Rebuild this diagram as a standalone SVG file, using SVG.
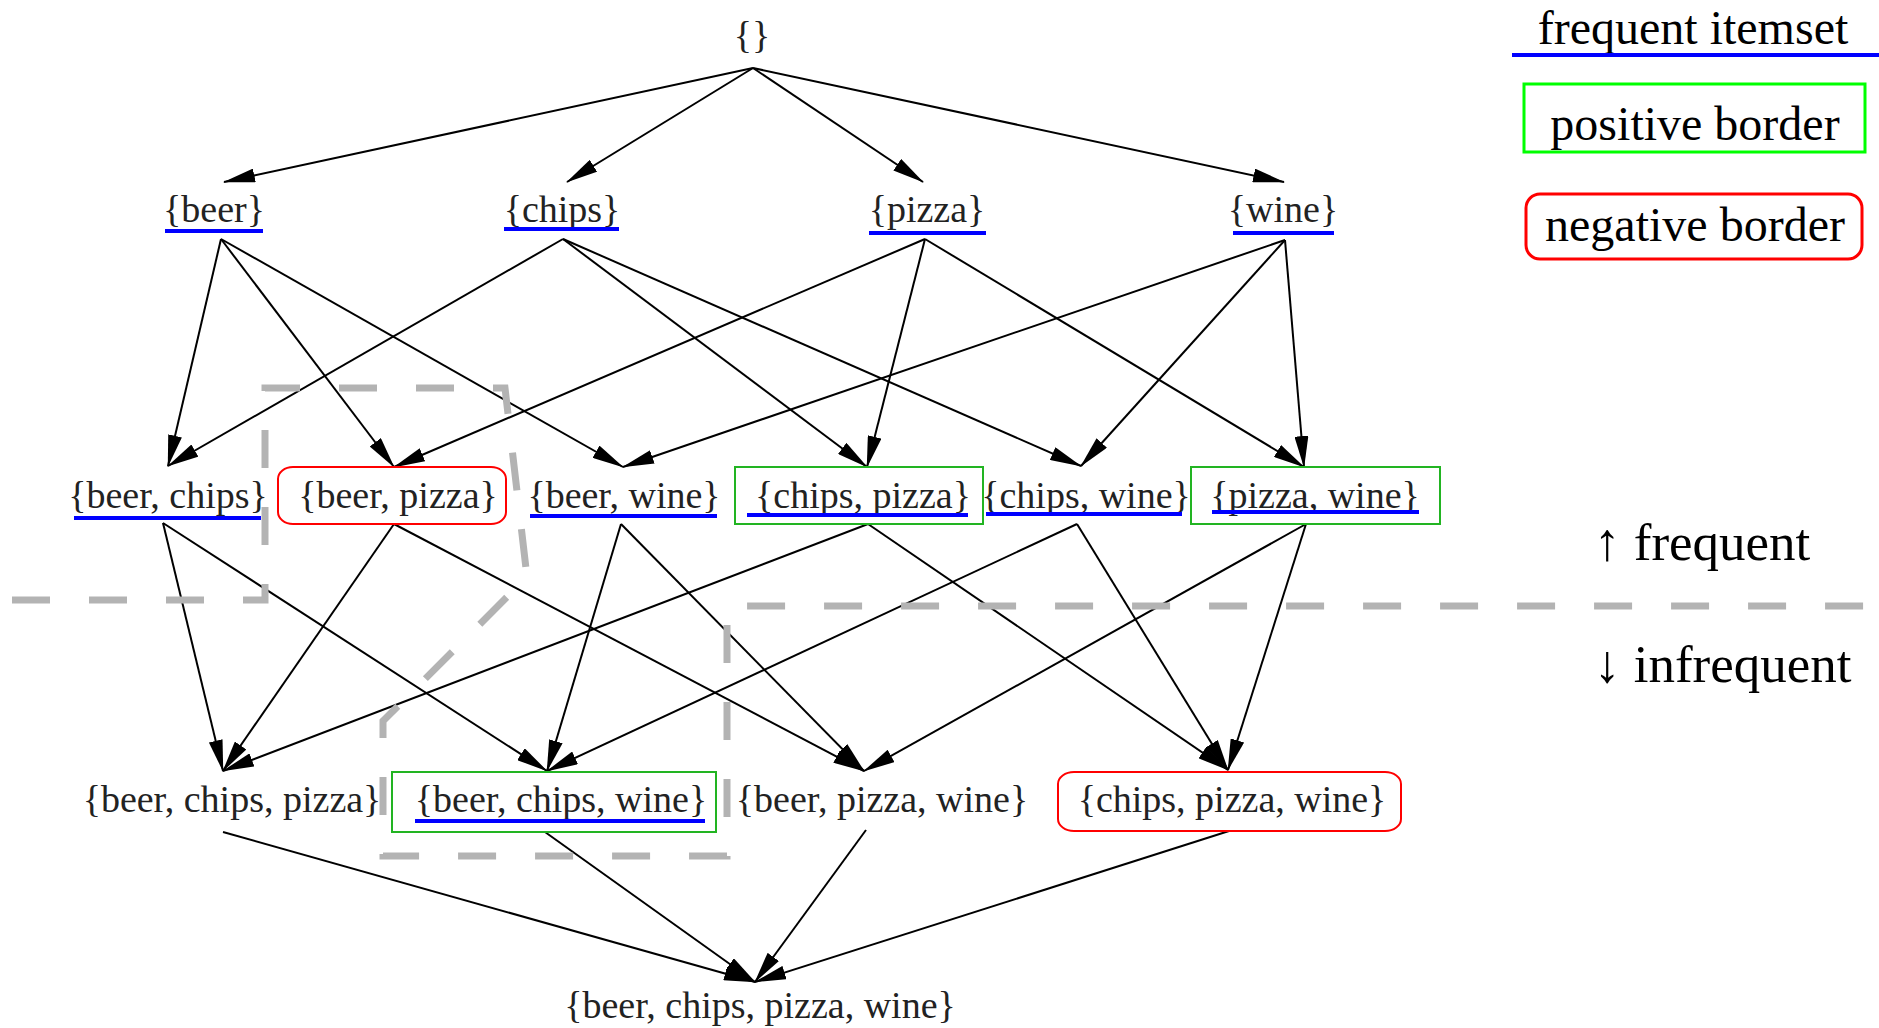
<svg xmlns="http://www.w3.org/2000/svg" width="1879" height="1028" viewBox="0 0 1879 1028">
<style>
.t{font-family:"Liberation Serif","Times New Roman",serif;font-size:38px;fill:#222;text-anchor:middle}
.lg{font-family:"Liberation Serif","Times New Roman",serif;font-size:48px;fill:#000;text-anchor:middle}
.ar{font-family:"Liberation Serif","Times New Roman",serif;font-size:53px;fill:#000}
.ul{stroke:#0000ff;stroke-width:4}
.pos{fill:#fff;stroke:#22b422;stroke-width:2}
.neg{fill:#fff;stroke:#ff0000;stroke-width:2}
.e{stroke:#000;stroke-width:2;fill:none;marker-end:url(#ah)}
</style>
<defs>
<marker id="ah" markerUnits="userSpaceOnUse" markerWidth="32" markerHeight="14" refX="31" refY="7" orient="auto">
<path d="M0,0 L32,7 L0,14 Z" fill="#000"/>
</marker>
</defs>
<rect width="1879" height="1028" fill="#fff"/>

<g id="connectors">
<line class="e" x1="753" y1="68" x2="224" y2="182"/>
<line class="e" x1="753" y1="68" x2="567" y2="182"/>
<line class="e" x1="753" y1="68" x2="923" y2="182"/>
<line class="e" x1="753" y1="68" x2="1284" y2="182"/>

<line class="e" x1="221" y1="239" x2="168" y2="466"/>
<line class="e" x1="221" y1="239" x2="394" y2="467"/>
<line class="e" x1="221" y1="239" x2="623" y2="467"/>
<line class="e" x1="563" y1="239" x2="168" y2="466"/>
<line class="e" x1="563" y1="239" x2="867" y2="467"/>
<line class="e" x1="563" y1="239" x2="1081" y2="466"/>
<line class="e" x1="925" y1="239" x2="394" y2="467"/>
<line class="e" x1="925" y1="239" x2="867" y2="467"/>
<line class="e" x1="925" y1="239" x2="1304" y2="467"/>
<line class="e" x1="1285" y1="240" x2="623" y2="467"/>
<line class="e" x1="1285" y1="240" x2="1081" y2="466"/>
<line class="e" x1="1285" y1="240" x2="1304" y2="467"/>

<line class="e" x1="163" y1="523" x2="223" y2="771"/>
<line class="e" x1="163" y1="523" x2="547" y2="771"/>
<line class="e" x1="394" y1="524" x2="223" y2="771"/>
<line class="e" x1="394" y1="524" x2="864" y2="771"/>
<line class="e" x1="621" y1="524" x2="547" y2="771"/>
<line class="e" x1="621" y1="524" x2="864" y2="771"/>
<line class="e" x1="868" y1="524" x2="223" y2="771"/>
<line class="e" x1="868" y1="524" x2="1228" y2="770"/>
<line class="e" x1="1077" y1="524" x2="547" y2="771"/>
<line class="e" x1="1077" y1="524" x2="1228" y2="770"/>
<line class="e" x1="1306" y1="524" x2="864" y2="771"/>
<line class="e" x1="1306" y1="524" x2="1228" y2="770"/>

<line class="e" x1="223" y1="832" x2="755" y2="982"/>
<line class="e" x1="545" y1="832" x2="755" y2="982"/>
<line class="e" x1="866" y1="830" x2="755" y2="982"/>
<line class="e" x1="1229" y1="831" x2="755" y2="982"/>
</g>

<g id="border-line">
<polyline points="12,600 265,600 265,388 505,388 527,577 383,721 383,856 727,856 727,606 1879,606" fill="none" stroke="#b3b3b3" stroke-width="7" stroke-dasharray="38 39"/>
</g>

<g id="n-empty"><text class="t" x="752" y="48">{}</text></g>

<g id="n-beer"><text class="t" x="214" y="222">{beer}</text><line class="ul" x1="165" y1="231" x2="263" y2="231"/></g>
<g id="n-chips"><text class="t" x="562" y="222">{chips}</text><line class="ul" x1="504" y1="229" x2="619" y2="229"/></g>
<g id="n-pizza"><text class="t" x="927" y="222">{pizza}</text><line class="ul" x1="869" y1="233" x2="986" y2="233"/></g>
<g id="n-wine"><text class="t" x="1283" y="222">{wine}</text><line class="ul" x1="1233" y1="233" x2="1334" y2="233"/></g>

<g id="n-beer-chips"><text class="t" x="168" y="508">{beer, chips}</text><line class="ul" x1="74" y1="518" x2="261" y2="518"/></g>
<g id="n-beer-pizza"><rect class="neg" x="278" y="467" width="228" height="57" rx="15" ry="12"/><text class="t" x="398" y="508">{beer, pizza}</text></g>
<g id="n-beer-wine"><text class="t" x="624" y="508">{beer, wine}</text><line class="ul" x1="530" y1="516" x2="717" y2="516"/></g>
<g id="n-chips-pizza"><rect class="pos" x="735" y="467" width="248" height="57"/><text class="t" x="863" y="508">{chips, pizza}</text><line class="ul" x1="747" y1="515" x2="968" y2="515"/></g>
<g id="n-chips-wine"><text class="t" x="1086" y="508">{chips, wine}</text><line class="ul" x1="986" y1="514" x2="1182" y2="514"/></g>
<g id="n-pizza-wine"><rect class="pos" x="1191" y="467" width="249" height="57"/><text class="t" x="1315" y="508">{pizza, wine}</text><line class="ul" x1="1212" y1="512" x2="1419" y2="512"/></g>

<g id="n-beer-chips-pizza"><text class="t" x="232" y="812">{beer, chips, pizza}</text></g>
<g id="n-beer-chips-wine"><rect class="pos" x="392" y="772" width="324" height="60"/><text class="t" x="561" y="812">{beer, chips, wine}</text><line class="ul" x1="415" y1="821" x2="705" y2="821"/></g>
<g id="n-beer-pizza-wine"><text class="t" x="882" y="812">{beer, pizza, wine}</text></g>
<g id="n-chips-pizza-wine"><rect class="neg" x="1058" y="772" width="343" height="59" rx="16" ry="12"/><text class="t" x="1232" y="812">{chips, pizza, wine}</text></g>

<g id="n-all"><text class="t" x="760" y="1018">{beer, chips, pizza, wine}</text></g>

<g id="legend">
<text class="lg" x="1693" y="44">frequent itemset</text>
<line x1="1512" y1="55" x2="1879" y2="55" stroke="#0000ff" stroke-width="4"/>
<rect x="1524" y="84" width="341" height="68" fill="none" stroke="#00ff00" stroke-width="3"/>
<text class="lg" x="1695" y="140">positive border</text>
<rect x="1526" y="194" width="336" height="65" rx="14" ry="14" fill="none" stroke="#ff0000" stroke-width="3"/>
<text class="lg" x="1695" y="241">negative border</text>
<text class="ar" x="1594" y="560">↑ frequent</text>
<text class="ar" x="1594" y="682">↓ infrequent</text>
</g>
</svg>
